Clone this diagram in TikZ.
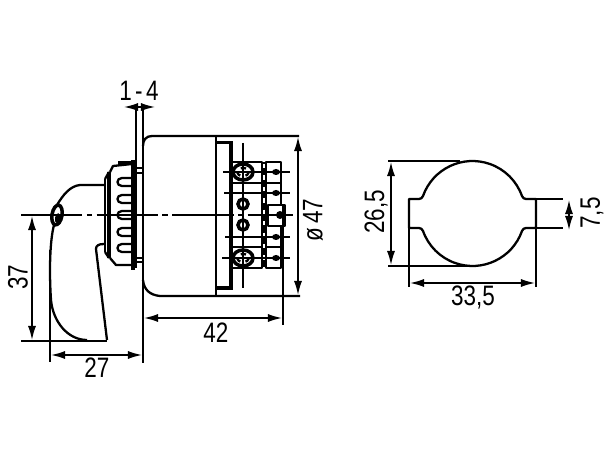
\documentclass[tikz,border=0pt]{standalone}
\usepackage{graphicx}
\usepackage{fontspec}
\setmainfont{Liberation Sans}
\usetikzlibrary{arrows.meta,positioning}
\tikzset{
  part/.style={line width=1.3pt,line join=round},
  heavy/.style={line width=2pt},
  dimline/.style={line width=0.85pt,{Latex[length=8pt,width=4.6pt]}-{Latex[length=8pt,width=4.6pt]}},
  extline/.style={line width=0.85pt},
  dimtext/.style={inner sep=0pt,font=\fontsize{16}{16}\selectfont}
}
\newcommand{\Nrw}[1]{\scalebox{0.8}[1]{\spaceskip=.15em #1}}
\begin{document}
\begin{tikzpicture}[x=0.02cm,y=-0.02cm]
\useasboundingbox (0,0) rectangle (612,459);
% side view: housing
\draw[part] (143,146) .. controls (143,140) and (146,136) .. (152,136) -- (299,136);
\draw[part] (143,280) .. controls (144,290) and (150,295) .. (160,296) -- (300,296);
\draw[part] (216,136) -- (216,296);
\draw[heavy] (217,142.5) -- (231,142.5) -- (231,288) -- (217,288);
\draw[extline] (136,107) -- (136,268);
\draw[extline] (143,107) -- (143,363);
% side view: terminals
\draw[part] (232,162) rectangle (262,268);
\draw[part] (266,162) rectangle (281,268);
\draw[part,fill=white] (268,205) rectangle (285,226);
\draw[heavy] (264,162) -- (264,268);
\draw[white,line width=1pt,dash pattern=on 2.5pt off 4pt] (264,164) -- (264,268);
\draw[part] (232,183) -- (262,183) (266,183) -- (281,183);
\draw[part] (232,247) -- (262,247) (266,247) -- (281,247);
\foreach \screwy in {172,258} {
  \draw[heavy,fill=white] (243,\screwy) ellipse (10 and 8);
  \draw[part,dashed] (243,\screwy) ellipse (6 and 4);
}
\foreach \screwy in {204,225}
  \draw[heavy,fill=white] (243,\screwy) circle (5);
\draw[part] (243,143) -- (243,288);
\foreach \rowy/\rowl in {172/223,193/224,237/225,258/222}
  \draw[extline] (\rowl,\rowy) -- (290,\rowy);
\foreach \rowy in {172,193,237,258}
  \fill (276,\rowy) ellipse (4 and 3);
\fill (280,215) circle (4);
% side view: flange
\draw[part] (105,179) -- (105,252);
\draw[heavy] (109,172) -- (109,258);
\draw[part] (105,179) -- (109,172);
\draw[part] (105,252) -- (109,258);
\draw[part] (110,172) -- (113,166) -- (132,164);
\draw[heavy] (118,163) -- (132,163);
\draw[part] (110,258) -- (116,265) -- (132,265);
\draw[heavy] (133,160) -- (133,270);
\draw[extline] (136,168) -- (143,168) (136,173) -- (143,173);
\draw[extline] (136,258) -- (143,258) (136,262) -- (143,262);
\foreach \finy in {182,199,215,232,248}
  \draw[part] (131,\finy-4) -- (122,\finy-4) .. controls (116,\finy-4) and (116,\finy+4) .. (122,\finy+4) -- (131,\finy+4);
% side view: lever
\draw[part] (104,185) -- (80,185) .. controls (70,186) and (63,195) .. (57,205);
\draw[part] (54,225) .. controls (50,240) and (49,270) .. (51,300) .. controls (53,322) and (68,340) .. (87,340);
\draw[part] (107,340) -- (96,249) .. controls (96,246) and (98,244) .. (104,244);
\draw[heavy,rotate around={-10:(57,215)}] (57,215) ellipse (5 and 10);
\fill[rotate around={-10:(57,215)}] (58,218) ellipse (2.5 and 5);
% side view: axis and dimensions
\draw[extline,dash pattern=on 35pt off 2.5pt on 3pt off 2.5pt] (21,215) -- (293,215);
\draw[extline] (21,341) -- (107,341);
\draw[extline] (50,250) -- (50,362);
\draw[extline] (283,205) -- (283,325);
\draw[dimline] (124,107) -- (155,107);
\draw[dimline] (32,216) -- (32,340);
\draw[dimline] (51,355) -- (142,355);
\draw[dimline] (144,318) -- (282,318);
\draw[dimline] (298,137) -- (298,295);
\node (thick) [dimtext] at (139,91) {\Nrw{1 - 4}};
\node (reach) [dimtext,rotate=90] at (18,277) {\Nrw{37}};
\node (lever) [dimtext] at (97,368) {\Nrw{27}};
\node (depth) [dimtext] at (216,333) {\Nrw{42}};
\node (dia) [dimtext,rotate=90] at (313,220) {\Nrw{ø 47}};
% cut-out
\draw[part] (409,228) -- (409,199) -- (419,199) .. controls (421,199) and (422,198) .. (423,196)
  arc[start angle=-160.5,end angle=-19.5,radius=52.5] .. controls (523,198) and (524,199) .. (526,199) -- (536,199) -- (536,228)
  -- (526,228) .. controls (524,228) and (523,229) .. (522,231)
  arc[start angle=19.5,end angle=160.5,radius=52.5] .. controls (422,229) and (421,228) .. (419,228) -- cycle;
\draw[extline] (388,161) -- (460,161);
\draw[extline] (388,266) -- (470,266);
\draw[extline] (409,228) -- (409,287);
\draw[extline] (536,228) -- (536,287);
\draw[extline] (536,199) -- (563,199);
\draw[extline] (536,228) -- (563,228);
\draw[dimline] (391,162) -- (391,265);
\draw[dimline] (410,283) -- (535,283);
\draw[dimline] (569,200) -- (569,230);
\node (high) [dimtext,rotate=90] at (376,212) {\Nrw{26,5}};
\node (wide) [dimtext] at (473,297) {\Nrw{33,5}};
\node (slot) [dimtext,rotate=90] at (592,213) {\Nrw{7,5}};
\end{tikzpicture}
\end{document}
